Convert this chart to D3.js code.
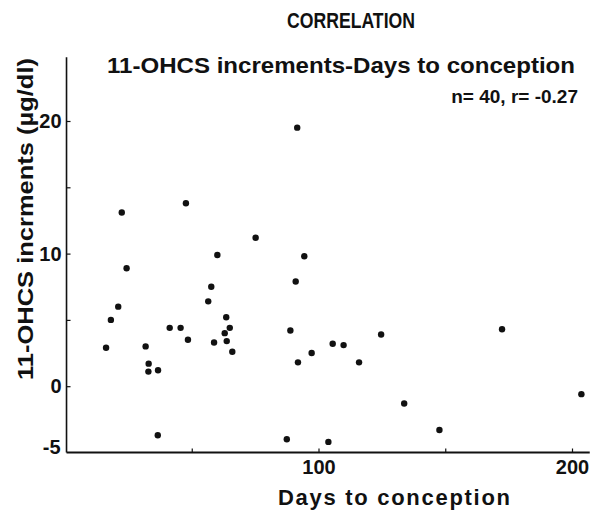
<!DOCTYPE html>
<html>
<head>
<meta charset="utf-8">
<script src="https://cdn.jsdelivr.net/npm/d3@7"></script>
<style>
  body { margin: 0; background: #fff; }
  svg text { font-family: "Liberation Sans", Arial, sans-serif; fill: #111; font-weight: bold; }
</style>
</head>
<body>
<div id="chart"></div>
<script>
// days to conception / 11-OHCS increment (ug/dl)
const days = [16.2, 18.1, 21.0, 22.4, 24.3, 31.8, 33.0, 32.9, 36.7, 36.6,
  41.3, 45.6, 48.5, 47.7, 56.5, 57.7, 60.1, 63.6, 65.0, 63.0,
  63.8, 58.8, 66.0, 75.2, 91.6, 94.4, 91.0, 88.9, 105.6, 109.9,
  97.3, 91.9, 116.0, 124.7, 133.8, 87.5, 103.9, 147.7, 172.4, 203.7];
const incr = [2.9, 5.0, 6.0, 13.1, 8.9, 3.0, 1.7, 1.1, 1.2, -3.7,
  4.4, 4.4, 3.5, 13.8, 6.4, 7.5, 9.9, 5.2, 4.4, 4.0,
  3.4, 3.3, 2.6, 11.2, 19.5, 9.8, 7.9, 4.2, 3.2, 3.1,
  2.5, 1.8, 1.8, 3.9, -1.3, -4.0, -4.2, -3.3, 4.3, -0.6];
const xTicks = [50, 100, 150, 200];
const xTickLabels = ["", "100", "", "200"];
const yTicks = [20, 15, 10, 5, 0];
const yTickLabels = ["20", "", "10", "", "0"];

const width = 601, height = 513;
const svg = d3.select("#chart").append("svg")
  .attr("width", width)
  .attr("height", height);

const x = d3.scaleLinear().domain([0, 200]).range([65, 572]);
const y = d3.scaleLinear().domain([-5, 20]).range([452.5, 121]);

// axis lines
svg.append("line")
  .attr("x1", x(0.6)).attr("x2", x(207))
  .attr("y1", y(-5)).attr("y2", y(-5))
  .attr("stroke", "#111").attr("stroke-width", 2);
svg.append("line")
  .attr("x1", x(0.6)).attr("x2", x(0.6))
  .attr("y1", y(-5)).attr("y2", y(24.8))
  .attr("stroke", "#111").attr("stroke-width", 1.6);

const xAxis = svg.append("g")
  .attr("transform", `translate(0,${y(-5)})`)
  .call(d3.axisBottom(x).tickValues(xTicks).tickSize(-4)
    .tickFormat((d, i) => xTickLabels[i]));
xAxis.select(".domain").remove();
xAxis.selectAll("line").attr("stroke", "#111").attr("stroke-width", 1.2);
xAxis.selectAll("text")
  .attr("y", 7)
  .style("font-size", "20px");

const yAxis = svg.append("g")
  .attr("transform", `translate(${x(0.6)},0)`)
  .call(d3.axisLeft(y).tickValues(yTicks).tickSize(-4)
    .tickFormat((d, i) => yTickLabels[i]));
yAxis.select(".domain").remove();
yAxis.selectAll("line").attr("stroke", "#111").attr("stroke-width", 1.2);
yAxis.selectAll("text")
  .attr("x", -5)
  .style("font-size", "20px");

// -5 label at bottom of y axis
svg.append("text")
  .attr("x", x(0.6) - 6).attr("y", y(-5) - 4)
  .attr("text-anchor", "end")
  .attr("dominant-baseline", "middle")
  .style("font-size", "20px")
  .text("-5");

// points
svg.append("g").selectAll("circle")
  .data(days)
  .enter()
  .append("circle")
  .attr("cx", (d) => x(d))
  .attr("cy", (d, i) => y(incr[i]))
  .attr("r", 3.2)
  .attr("fill", "#111");

// titles
svg.append("text")
  .attr("x", 287).attr("y", 28)
  .attr("textLength", 128).attr("lengthAdjust", "spacingAndGlyphs")
  .style("font-size", "22px")
  .text("CORRELATION");
svg.append("text")
  .attr("x", 107).attr("y", 73)
  .attr("textLength", 468).attr("lengthAdjust", "spacingAndGlyphs")
  .style("font-size", "22px")
  .text("11-OHCS increments-Days to conception");
svg.append("text")
  .attr("x", 578).attr("y", 103)
  .attr("text-anchor", "end")
  .style("font-size", "19px")
  .text("n= 40, r= -0.27");

// axis titles
svg.append("text")
  .attr("x", 278).attr("y", 505)
  .attr("textLength", 232).attr("lengthAdjust", "spacing")
  .style("font-size", "22px")
  .text("Days to conception");
svg.append("text")
  .attr("transform", "translate(33,380) rotate(-90)")
  .attr("textLength", 322).attr("lengthAdjust", "spacingAndGlyphs")
  .style("font-size", "22px")
  .text("11-OHCS incrments (\u00b5g/dl)");
</script>
</body>
</html>
